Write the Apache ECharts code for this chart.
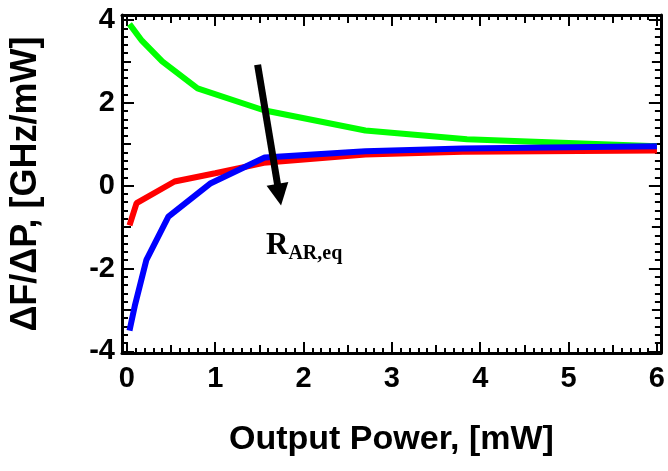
<!DOCTYPE html>
<html>
<head>
<meta charset="utf-8">
<script src="https://cdn.jsdelivr.net/npm/echarts@6/dist/echarts.min.js"></script>
<style>
  html, body { margin: 0; padding: 0; background: #fff; }
  #main { width: 668px; height: 471px; }
</style>
</head>
<body>
<div id="main"></div>
<script>
// 数据
var redX = [0.03, 0.11, 0.54, 1.0, 1.55, 2.7, 3.8, 6.0];
var redY = [-0.96, -0.42, 0.10, 0.30, 0.55, 0.75, 0.82, 0.85];
var blueX = [0.03, 0.09, 0.22, 0.47, 0.95, 1.56, 2.7, 3.8, 6.0];
var blueY = [-3.5, -2.9, -1.8, -0.75, 0.06, 0.68, 0.83, 0.9, 0.95];
var greenX = [0.03, 0.17, 0.4, 0.8, 1.55, 2.7, 3.85, 6.0];
var greenY = [3.9, 3.5, 3.0, 2.35, 1.82, 1.33, 1.12, 0.95];

// 刻度
var xMajor = [0, 1, 2, 3, 4, 5, 6];
var xMedium = [0.5, 1.5, 2.5, 3.5, 4.5, 5.5];
var yMajor = [-4, -2, 0, 2, 4];
var yMedium = [-3, -1, 1, 3];
var xMinor = [];
for (var i = 1; i < 60; i++) { if (i % 5 != 0) xMinor.push(i / 10); }
var yMinor = [];
for (var j = -19; j < 20; j++) { if (j % 5 != 0) yMinor.push(j / 5); }

// 箭头 (R_AR,eq)
var arrowFrom = [1.48, 2.92];
var arrowTo = [1.725, -0.22];

var XMIN = -0.055, XMAX = 6.045, YMIN = -4.04, YMAX = 4.12;

function pairs(xs, ys) {
  var out = [];
  for (var k = 0; k < xs.length; k++) out.push([xs[k], ys[k]]);
  return out;
}

var labelFont = { color: '#000', fontFamily: 'Liberation Sans', fontWeight: 'bold', fontSize: 29 };

function makeAxis(dim, pos, ticks, len, withLine, withLabel) {
  var a = {
    type: 'value',
    position: pos,
    min: dim == 'x' ? XMIN : YMIN,
    max: dim == 'x' ? XMAX : YMAX,
    splitLine: { show: false },
    axisLine: { show: withLine, onZero: false, lineStyle: { color: '#000', width: 3 } },
    axisTick: { show: true, inside: true, length: len, customValues: ticks,
                lineStyle: { color: '#000', width: 2 } },
    axisLabel: { show: false }
  };
  if (withLabel) {
    a.axisLabel = Object.assign({ show: true, customValues: ticks, margin: dim == 'x' ? 11 : 7 }, labelFont);
  }
  return a;
}

var xAxes = [
  makeAxis('x', 'bottom', xMajor, 11, true, true),
  makeAxis('x', 'bottom', xMedium, 8, false, false),
  makeAxis('x', 'bottom', xMinor, 5, false, false),
  makeAxis('x', 'top', xMajor, 11, true, false),
  makeAxis('x', 'top', xMedium, 8, false, false),
  makeAxis('x', 'top', xMinor, 5, false, false)
];
xAxes[0].name = 'Output Power, [mW]';
xAxes[0].nameLocation = 'middle';
xAxes[0].nameGap = 70;
xAxes[0].nameTextStyle = { color: '#000', fontFamily: 'Liberation Sans', fontWeight: 'bold', fontSize: 34 };

var yAxes = [
  makeAxis('y', 'left', yMajor, 12, true, true),
  makeAxis('y', 'left', yMedium, 9, false, false),
  makeAxis('y', 'left', yMinor, 6, false, false),
  makeAxis('y', 'right', yMajor, 12, true, false),
  makeAxis('y', 'right', yMedium, 9, false, false),
  makeAxis('y', 'right', yMinor, 6, false, false)
];
yAxes[0].name = 'ΔF/ΔP, [GHz/mW]';
yAxes[0].nameLocation = 'middle';
yAxes[0].nameGap = 78;
yAxes[0].nameTextStyle = { color: '#000', fontFamily: 'Liberation Sans', fontWeight: 'bold', fontSize: 36 };

function lineSeries(name, data, color) {
  return {
    name: name, type: 'line', data: data, xAxisIndex: 0, yAxisIndex: 0,
    showSymbol: false, symbol: 'none',
    lineStyle: { color: color, width: 6 },
    itemStyle: { color: color },
    animation: false
  };
}

var myChart = echarts.init(document.getElementById('main'));
var option = {
  backgroundColor: '#fff',
  animation: false,
  grid: { left: 122, right: 5, top: 15, bottom: 118, containLabel: false },
  xAxis: xAxes,
  yAxis: yAxes,
  series: [
    lineSeries('green', pairs(greenX, greenY), '#00ff00'),
    lineSeries('red', pairs(redX, redY), '#ff0000'),
    lineSeries('blue', pairs(blueX, blueY), '#0000ff'),
    {
      name: 'arrow', type: 'line', data: [], xAxisIndex: 0, yAxisIndex: 0,
      markLine: {
        silent: true,
        animation: false,
        symbol: ['none', 'triangle'],
        symbolSize: [22, 22],
        label: { show: false },
        lineStyle: { color: '#000', width: 7, type: 'solid' },
        itemStyle: { color: '#000' },
        data: [[{ coord: arrowFrom }, { coord: arrowTo }]]
      }
    }
  ],
  graphic: [{
    type: 'text',
    left: 266,
    top: 230,
    style: {
      text: '{r|R}{s|AR,eq}',
      rich: {
        r: { fontFamily: 'Liberation Serif', fontWeight: 'bold', fontSize: 31, fill: '#000' },
        s: { fontFamily: 'Liberation Serif', fontWeight: 'bold', fontSize: 20, fill: '#000',
             verticalAlign: 'top', padding: [16, 0, 0, 0] }
      }
    }
  }]
};
myChart.setOption(option);
</script>
</body>
</html>
